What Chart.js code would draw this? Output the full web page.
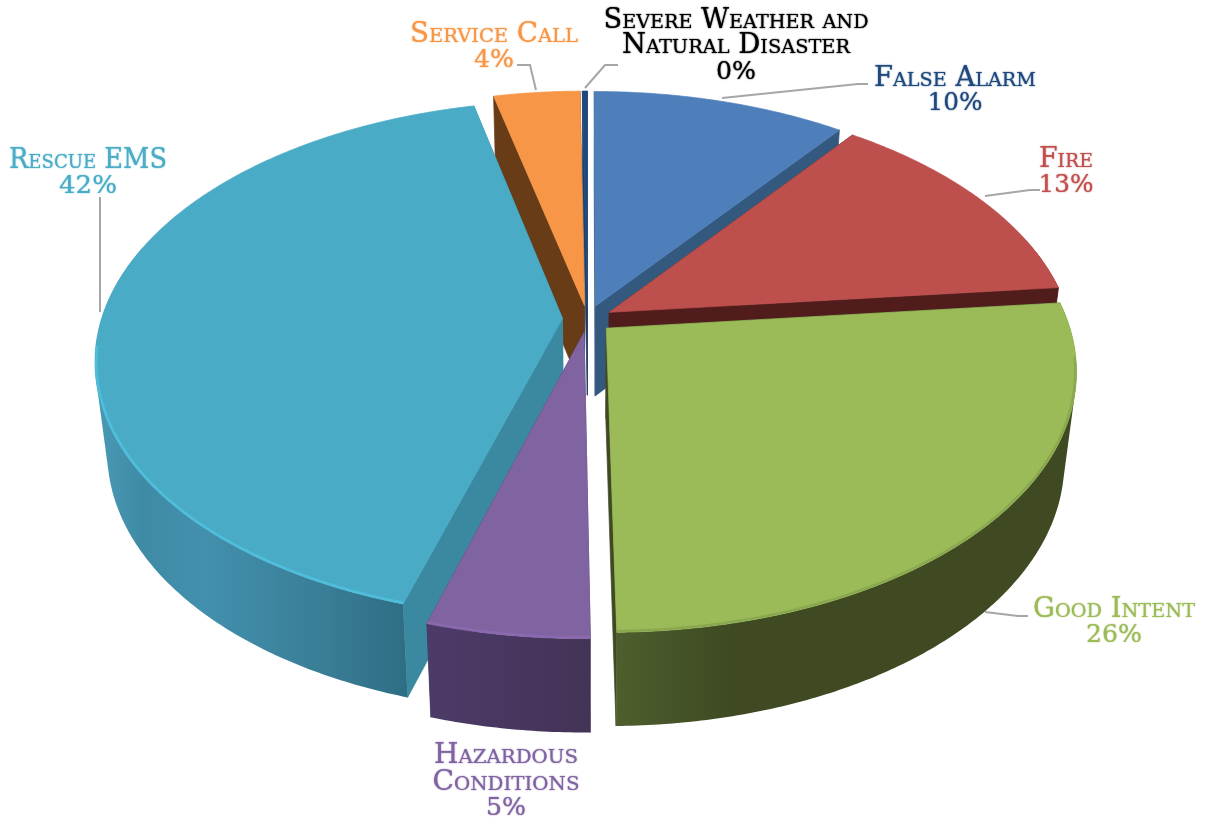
<!DOCTYPE html>
<html><head><meta charset="utf-8">
<style>html,body{margin:0;padding:0;background:#fff}canvas{display:block}</style>
<script src="https://cdn.jsdelivr.net/npm/chart.js@4"></script>
</head><body>
<canvas id="c" width="1206" height="817"></canvas>
<script>
const categories = ['False Alarm','Fire','Good Intent','Hazardous Conditions','Rescue EMS','Service Call','Severe Weather and Natural Disaster'];
const shares = [10.3, 13.1, 26.4, 4.8, 41.7, 3.5, 0.2];
const topColors = ['#4E7FBB','#BD4F4C','#9BBB59','#8064A2','#49ABC6','#F79646','#1F497D'];
const textColors = ['#1F497D','#C0504D','#9BBB59','#8064A2','#4BACC6','#F79646','#000000'];
const explode = [80,80,80,80,80,80,80];
const wallStops = [
  [['#34597F',0],['#34597F',1]],
  [['#511D1C',0],['#511D1C',1]],
  [['#3F4A22',0],['#3F4A22',.75],['#445227',.85],['#4E5F2D',1]],
  [['#433356',0],['#4C3B68',1]],
  [['#2E6E85',0],['#3A7F98',.3],['#4290AD',.65],['#3F8BA6',.85],['#4A9AB5',1]],
  [['#693C18',0],['#693C18',1]],
  [['#1F3F6A',0],['#1F3F6A',1]]
];
const cutColors = ['#34597F','#511D1C','#3F4A22','#4A3A66','#3A89A1','#693C18','#1F3F6A'];
const rimColors = [null,null,'#8AA84F','#8A69AE','#4FBEDD',null,null];

/* label text and layout: [line, centre x, centre y, fitted width] */
const labelLayout = [
  [['False Alarm',955,79,162],['%',955,103,55]],
  [['Fire',1066,160,54],['%',1066,185,55]],
  [['Good Intent',1114,610,162],['%',1114,635,56]],
  [['Hazardous',506,756,144],['Conditions',506,783,147],['%',506,808,40]],
  [['Rescue EMS',88,161,158],['%',88,186,58]],
  [['Service Call',494,35,168],['%',494,60,40]],
  [['Severe Weather and',736,21,265],['Natural Disaster',736,46,228],['%',736,72,40]]
];
const leaders = [
  [[722,98],[858,84],[868,84]],
  [[985,196],[1030,190],[1040,190]],
  [[985,612],[1018,616],[1028,616]],
  null,
  [[100,197],[100,312]],
  [[517,65],[530,65],[536,90]],
  [[618,65],[605,65],[585,88]]
];

/* projection of the pie plane */
const view = {cx:587.5, cy:319, rx:461, ry:252.5, p:0.159, depth:90, sx:0.975, sy:1.012};
function proj(u,v,low){
  const w = 1 - view.p*v;
  let X = view.rx*u/w, Y = view.ry*v/w;
  if(low){ X*=view.sx; Y=Y*view.sy+view.depth; }
  return [view.cx+X, view.cy+Y];
}
function addPoly(ctx,pts){
  pts.forEach((p,i)=>i?ctx.lineTo(p[0],p[1]):ctx.moveTo(p[0],p[1]));ctx.closePath();
}
function poly(ctx,pts,fill){
  ctx.beginPath();addPoly(ctx,pts);
  ctx.fillStyle=fill;ctx.strokeStyle=fill;ctx.lineWidth=.7;ctx.fill();ctx.stroke();
}
function area(q){let s=0;q.forEach((p,i)=>{const r=q[(i+1)%q.length];s+=p[0]*r[1]-r[0]*p[1];});return s;}
const pie3d = {
  id:'pie3d',
  beforeDatasetsDraw(chart){
    const ctx=chart.ctx, meta=chart.getDatasetMeta(0);
    ctx.save();
    const order=[6,5,0,1,4,2,3];
    order.forEach(i=>{
      const arc=meta.data[i], R=arc.outerRadius, a0=arc.startAngle, a1=arc.endAngle;
      const off=(arc.options.offset||0)/4/R, mid=(a0+a1)/2;
      const ou=Math.cos(mid)*off, ov=Math.sin(mid)*off;
      const pt=(a,low)=>proj(ou+Math.cos(a),ov+Math.sin(a),low);
      const apex=low=>proj(ou,ov,low);
      poly(ctx,[apex(false),pt(a0,false),pt(a0,true),apex(true)],cutColors[i]);
      poly(ctx,[apex(false),pt(a1,false),pt(a1,true),apex(true)],cutColors[i]);
      const n=Math.max(2,Math.ceil((a1-a0)/0.01));
      const quads=[];
      for(let k=0;k<n;k++){
        const s=a0+(a1-a0)*k/n, e=a0+(a1-a0)*(k+1)/n;
        if(Math.sin((s+e)/2)<-0.3) continue;
        let q=[pt(s,false),pt(e,false),pt(e,true),pt(s,true)];
        if(area(q)<0) q=q.reverse();
        quads.push(q);
      }
      if(quads.length){
        const xs=quads.flat().map(p=>p[0]);
        const maxX=Math.max(...xs), minX=Math.min(...xs);
        const g=ctx.createLinearGradient(maxX,0,minX,0);
        wallStops[i].forEach(s=>g.addColorStop(s[1],s[0]));
        ctx.beginPath();
        quads.forEach(q=>addPoly(ctx,q));
        ctx.fillStyle=g;ctx.fill('nonzero');
      }
      const top=[apex(false)];
      for(let k=0;k<=n;k++) top.push(pt(a0+(a1-a0)*k/n,false));
      poly(ctx,top,topColors[i]);
      if(rimColors[i]){
        ctx.save();
        ctx.beginPath();addPoly(ctx,top);ctx.clip();
        ctx.beginPath();
        let open=false;
        for(let k=0;k<=n;k++){
          const a=a0+(a1-a0)*k/n;
          if(Math.sin(a)<0.1){open=false;continue;}
          const p=pt(a,false);
          if(open)ctx.lineTo(p[0],p[1]);else{ctx.moveTo(p[0],p[1]);open=true;}
        }
        ctx.strokeStyle=rimColors[i];ctx.lineWidth=5;ctx.stroke();
        ctx.restore();
      }
    });
    ctx.restore();
    return false;
  },
  afterDraw(chart){
    const ctx=chart.ctx;
    ctx.save();
    ctx.strokeStyle='#A6A6A6';ctx.lineWidth=2;
    leaders.forEach(l=>{ if(!l)return;
      ctx.beginPath();l.forEach((p,i)=>i?ctx.lineTo(p[0],p[1]):ctx.moveTo(p[0],p[1]));ctx.stroke();});
    ctx.textAlign='center';ctx.textBaseline='middle';
    labelLayout.forEach((lines,i)=>{
      ctx.fillStyle=textColors[i];
      ctx.shadowColor=textColors[i];ctx.shadowBlur=1.5;
      lines.forEach(([t,x,y,w])=>{
        const isPct=t==='%';
        const str=isPct?Math.round(shares[i])+'%':t;
        ctx.font=isPct?'25px "DejaVu Serif"':'small-caps 27px "DejaVu Serif"';
        const m=ctx.measureText(str).width;
        ctx.save();ctx.translate(x,y);ctx.scale(w/m,1);ctx.fillText(str,0,0);ctx.restore();
      });
    });
    ctx.restore();
  }
};
new Chart(document.getElementById('c'),{
  type:'pie',
  data:{labels:categories,datasets:[{data:shares,backgroundColor:topColors,borderWidth:0,offset:explode,clip:false}]},
  options:{responsive:false,animation:false,layout:{padding:0},plugins:{legend:{display:false},tooltip:{enabled:false},title:{display:false}}},
  plugins:[pie3d]
});
</script>
</body></html>
